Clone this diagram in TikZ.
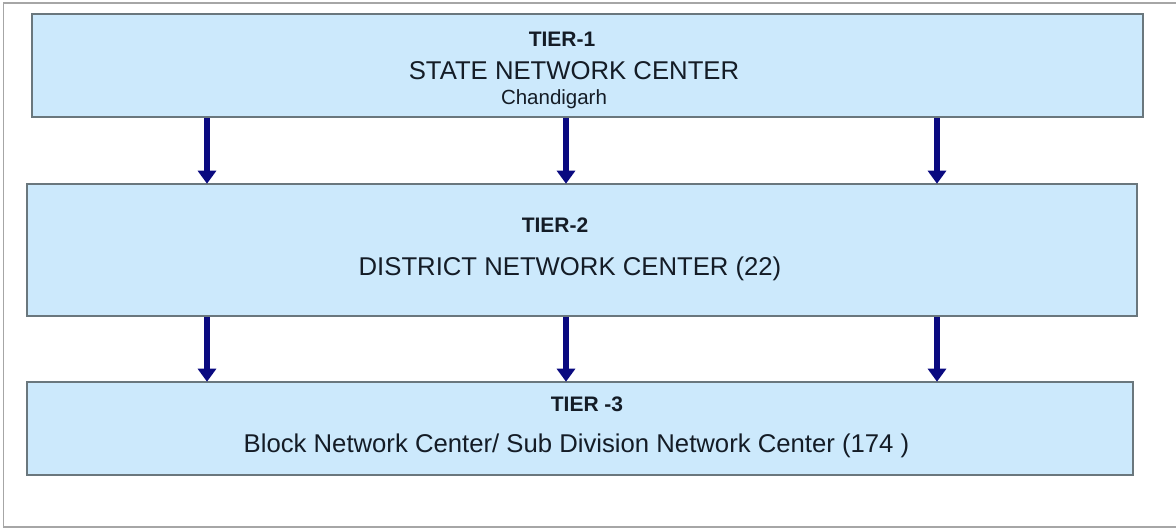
\documentclass[tikz,border=0pt]{standalone}
\usepackage{fontspec}
\setmainfont{Liberation Sans}
\usetikzlibrary{arrows.meta}
\definecolor{boxfill}{HTML}{CCE9FC}
\definecolor{boxline}{HTML}{6A777D}
\definecolor{framegray}{HTML}{A6A6A6}
\definecolor{arrnavy}{HTML}{0A0A80}
\definecolor{txt}{HTML}{141C26}
\tikzset{
  tierbox/.style={draw=boxline, line width=2.6pt, fill=boxfill, inner sep=0pt},
  tiertitle/.style={anchor=base, inner sep=0pt, text=txt, font=\fontsize{21}{25}\selectfont\bfseries},
  tiermain/.style={anchor=base, inner sep=0pt, text=txt, font=\fontsize{25.7}{30}\selectfont},
  tiersmall/.style={anchor=base, inner sep=0pt, text=txt, font=\fontsize{20.5}{24}\selectfont},
  downarr/.style={draw=arrnavy, line width=5.5pt, -{Triangle[width=18pt,length=13pt]}, shorten >=-1pt}
}
\begin{document}
\begin{tikzpicture}[x=1pt,y=-1pt]
\useasboundingbox (0,0) rectangle (1176,529);
\draw[framegray, line width=1.6pt] (1180,3.3) -- (3.3,3.3) -- (3.3,527) -- (1180,527);
% boxes
\node[tierbox, minimum width=1111pt, minimum height=103pt] (b1) at (587.5,65.5) {};
\node[tierbox, minimum width=1110pt, minimum height=132pt] (b2) at (582,250) {};
\node[tierbox, minimum width=1106pt, minimum height=93pt] (b3) at (580,428.5) {};
% texts
\node[tiertitle] (t1) at (562,47) {TIER-1};
\node[tiermain] (s1) at (574,80) {STATE NETWORK CENTER};
\node[tiersmall] (c1) at (554,105) {Chandigarh};
\node[tiertitle] (t2) at (555,233) {TIER-2};
\node[tiermain] (s2) at (570,276) {DISTRICT NETWORK CENTER (22)};
\node[tiertitle] (t3) at (587,411) {TIER -3};
\node[tiermain] (s3) at (576.5,452) {Block Network Center/ Sub Division Network Center (174 )};
% arrow columns
\coordinate (xa) at (207,0);
\coordinate (xb) at (566,0);
\coordinate (xc) at (937,0);
\foreach \c in {xa,xb,xc}{
  \draw[downarr] (b1.south -| \c) -- (b2.north -| \c);
  \draw[downarr] (b2.south -| \c) -- (b3.north -| \c);
}
\end{tikzpicture}
\end{document}
